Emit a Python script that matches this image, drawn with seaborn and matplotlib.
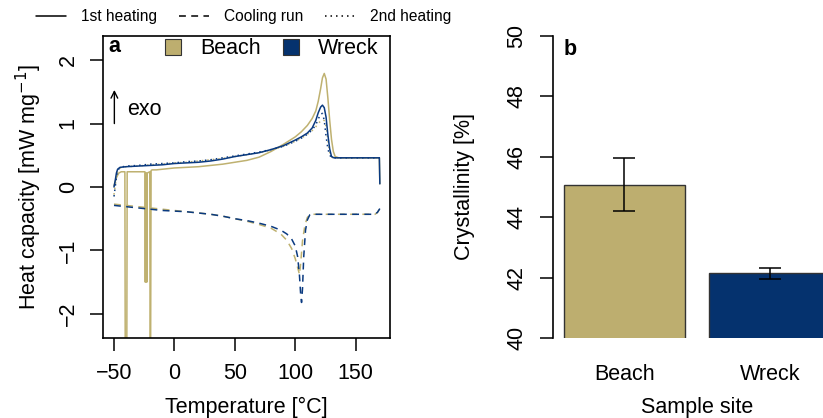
import numpy as np
import pandas as pd
import matplotlib
matplotlib.use("Agg")
import matplotlib.pyplot as plt
import seaborn as sns
from matplotlib.lines import Line2D
from matplotlib.patches import Patch

# ---------------- data ----------------
# Panel a: DSC curves (temperature in degC, heat capacity in mW mg-1)
beach_heat1_T = [-50, -48, -46, -44, -42, -41.0, -40.7, -39.4, -39.1, -36, -30, -24.4,
                 -24.1, -23.8, -23.2, -22.9, -22.5, -20.4, -20.1, -19.7, -19.3, -18.5,
                 -15, -10, 0, 10, 20, 30, 40, 50, 60, 70, 80, 90, 100, 105, 110, 114,
                 117, 119, 121, 122.5, 124, 125.5, 127, 128.5, 130, 131.5, 133, 136,
                 140, 150, 160, 169.6, 170]
beach_heat1_Y = [0.02, 0.15, 0.22, 0.24, 0.24, 0.24, -2.6, -2.6, 0.24, 0.24, 0.24, 0.24,
                 -1.5, 0.22, 0.22, -1.5, 0.22, 0.24, -2.6, -2.6, 0.26, 0.27,
                 0.27, 0.28, 0.30, 0.31, 0.32, 0.34, 0.36, 0.39, 0.42, 0.47, 0.56, 0.67,
                 0.79, 0.87, 0.97, 1.08, 1.20, 1.35, 1.55, 1.72, 1.79, 1.70, 1.40, 1.05,
                 0.75, 0.56, 0.48, 0.46, 0.46, 0.46, 0.46, 0.46, 0.05]

wreck_heat1_T = [-50, -49, -48, -47, -45, -40, -30, -20, -10, 0, 10, 20, 30, 40, 50, 60,
                 70, 80, 90, 100, 105, 110, 114, 117, 119, 121, 122.5, 124, 125.5, 127,
                 128.5, 130, 132, 140, 150, 160, 169.6, 170]
wreck_heat1_Y = [0.0, 0.10, 0.22, 0.28, 0.31, 0.32, 0.33, 0.34, 0.35, 0.37, 0.38, 0.39,
                 0.41, 0.44, 0.48, 0.51, 0.54, 0.59, 0.65, 0.74, 0.79, 0.85, 0.93, 1.05,
                 1.17, 1.26, 1.29, 1.25, 1.10, 0.82, 0.60, 0.48, 0.46, 0.46, 0.46, 0.46,
                 0.46, 0.05]

beach_cool_T = [-50, -40, -30, -20, -10, 0, 10, 20, 30, 40, 50, 60, 70, 80, 88, 93, 97,
                100, 102, 103.5, 104.5, 106, 108, 110, 112, 115, 130, 150, 166, 168, 170]
beach_cool_Y = [-0.27, -0.29, -0.31, -0.33, -0.35, -0.37, -0.39, -0.41, -0.43, -0.46,
                -0.50, -0.54, -0.59, -0.65, -0.74, -0.84, -0.97, -1.13, -1.27, -1.38,
                -1.20, -0.85, -0.60, -0.48, -0.44, -0.43, -0.43, -0.43, -0.43, -0.40, -0.34]

wreck_cool_T = [-50, -40, -30, -20, -10, 0, 10, 20, 30, 40, 50, 60, 70, 80, 88, 93, 97,
                100, 102, 103.5, 104.5, 105.2, 106, 107, 108.5, 110, 112, 115, 130, 150,
                166, 168, 170]
wreck_cool_Y = [-0.29, -0.31, -0.33, -0.35, -0.37, -0.38, -0.39, -0.41, -0.43, -0.46,
                -0.50, -0.53, -0.57, -0.62, -0.68, -0.74, -0.82, -0.93, -1.10, -1.40,
                -1.70, -1.82, -1.60, -1.10, -0.68, -0.52, -0.44, -0.43, -0.43, -0.43,
                -0.43, -0.40, -0.34]

beach_heat2_T = [-50, -49, -48, -47, -45, -40, -30, -20, -10, 0, 10, 20, 30, 40, 50, 60,
                 70, 80, 90, 100, 105, 110, 114, 117, 119, 121, 123, 124.5, 126, 127.5,
                 129, 131, 134, 140, 150, 160, 170]
beach_heat2_Y = [-0.12, 0.02, 0.16, 0.26, 0.30, 0.32, 0.33, 0.35, 0.36, 0.38, 0.39, 0.41,
                 0.43, 0.45, 0.48, 0.51, 0.54, 0.58, 0.64, 0.72, 0.77, 0.83, 0.89, 0.95,
                 1.0, 1.04, 1.06, 1.04, 0.90, 0.66, 0.50, 0.46, 0.46, 0.46, 0.46, 0.46,
                 0.46]

wreck_heat2_T = [-50, -49, -48, -47, -45, -40, -30, -20, -10, 0, 10, 20, 30, 40, 50, 60,
                 70, 80, 90, 100, 105, 110, 114, 117, 119, 121, 122.5, 124, 125.5, 127,
                 128.5, 130, 132, 140, 150, 160, 170]
wreck_heat2_Y = [-0.15, 0.0, 0.15, 0.26, 0.31, 0.33, 0.34, 0.36, 0.37, 0.38, 0.40, 0.41,
                 0.43, 0.46, 0.49, 0.52, 0.55, 0.59, 0.64, 0.72, 0.77, 0.83, 0.90, 0.98,
                 1.07, 1.15, 1.16, 1.05, 0.80, 0.60, 0.50, 0.47, 0.46, 0.46, 0.46, 0.46,
                 0.46]

# Panel b: crystallinity
sites = ["Beach", "Wreck"]
cryst_mean = [45.08, 42.16]
cryst_low = [44.19, 41.96]
cryst_high = [45.96, 42.33]

x_ticks_a = [-50, 0, 50, 100, 150]
y_ticks_a = [-2, -1, 0, 1, 2]
y_ticks_b = [40, 42, 44, 46, 48, 50]

# ---------------- style ----------------
TAN = "#BDAE6F"
BLUE = "#05326E"
TAN_L = "#BFB170"
BLUE_L = "#0A3A80"

sns.set_theme(style="ticks")
plt.rcParams["font.family"] = ["Liberation Sans", "DejaVu Sans"]
plt.rcParams["axes.linewidth"] = 1.2
plt.rcParams["xtick.major.width"] = 1.1
plt.rcParams["ytick.major.width"] = 1.1
plt.rcParams["xtick.color"] = "black"
plt.rcParams["ytick.color"] = "black"
plt.rcParams["axes.edgecolor"] = "black"
plt.rcParams["text.color"] = "black"
plt.rcParams["axes.labelcolor"] = "black"

W, H = 823, 418
fig = plt.figure(figsize=(W / 100, H / 100), dpi=100)

def fbox(l, t, r, b):
    return [l / W, 1 - b / H, (r - l) / W, (b - t) / H]

ax = fig.add_axes(fbox(103, 36, 390, 338))
axb = fig.add_axes(fbox(553, 36, 823, 338))

FS = 15.5
LW = 1.1
DASH = (0, (4.5, 3.5))
DOT = (0, (1, 2.6))

# ---------------- panel a ----------------
curves = [
    (beach_heat1_T, beach_heat1_Y, TAN_L, "-"),
    (beach_cool_T, beach_cool_Y, TAN_L, DASH),
    (beach_heat2_T, beach_heat2_Y, TAN_L, DOT),
    (wreck_heat1_T, wreck_heat1_Y, BLUE_L, "-"),
    (wreck_cool_T, wreck_cool_Y, BLUE_L, DASH),
    (wreck_heat2_T, wreck_heat2_Y, BLUE_L, DOT),
]
for T, Y, c, ls in curves:
    sns.lineplot(x=T, y=Y, ax=ax, color=c, linewidth=LW, linestyle=ls,
                 estimator=None, sort=False, legend=False)

ax.set_xlim(-59.1, 178.4)
ax.set_ylim(-2.38, 2.38)
ax.set_xticks(x_ticks_a)
ax.set_yticks(y_ticks_a)
ax.tick_params(axis="both", length=9.5, labelsize=FS, direction="out")
ax.tick_params(axis="x", pad=8.5)
ax.tick_params(axis="y", pad=8)
for lab in ax.get_yticklabels():
    lab.set_rotation(90)
    lab.set_va("center")
ax.set_xlabel("Temperature [°C]", fontsize=FS)
ax.xaxis.set_label_coords(0.5, -0.195)
ax.set_ylabel("Heat capacity [mW mg$^{-1}$]", fontsize=FS)
ax.yaxis.set_label_coords(-0.205, 0.5)
for s in ax.spines.values():
    s.set_visible(True)
    s.set_linewidth(1.2)

ax.text(0.018, 0.946, "a", transform=ax.transAxes, fontsize=FS, fontweight="bold",
        va="baseline", ha="left")
ax.annotate("", xy=(-49.7, 1.53), xytext=(-49.7, 1.0),
            arrowprops=dict(arrowstyle="->", lw=1.0, color="black",
                            shrinkA=0, shrinkB=0))
ax.text(-39.2, 1.14, "exo", fontsize=FS, va="baseline", ha="left")

leg_a = ax.legend(handles=[Patch(facecolor=TAN, edgecolor="#333333", linewidth=0.8),
                           Patch(facecolor=BLUE, edgecolor="#333333", linewidth=0.8)],
                  labels=sites, ncol=2, loc="center left",
                  bbox_to_anchor=(0.216, 0.958), frameon=False, fontsize=FS,
                  handlelength=0.75, handleheight=0.75, handletextpad=0.9,
                  columnspacing=1.0, borderpad=0, borderaxespad=0)

# figure-level line-type legend
fig.legend(handles=[Line2D([], [], color="black", lw=LW, linestyle="-"),
                    Line2D([], [], color="black", lw=LW, linestyle=DASH),
                    Line2D([], [], color="black", lw=LW, linestyle=DOT)],
           labels=["1st heating", "Cooling run", "2nd heating"], ncol=3,
           loc="center left", bbox_to_anchor=(36 / W, 1 - 17 / H), frameon=False,
           fontsize=11.2, handlelength=1.95, handletextpad=0.95, columnspacing=1.4,
           borderpad=0, borderaxespad=0)

# ---------------- panel b ----------------
dfb = pd.DataFrame({"site": sites, "cryst": cryst_mean})
sns.barplot(data=dfb, x="site", y="cryst", hue="site", palette=[TAN, BLUE],
            saturation=1, ax=axb, width=0.834, edgecolor="#333333", linewidth=1.0,
            legend=False, errorbar=None)
yerr = [np.array(cryst_mean) - np.array(cryst_low),
        np.array(cryst_high) - np.array(cryst_mean)]
axb.errorbar(x=[0, 1], y=cryst_mean, yerr=yerr, fmt="none", ecolor="black",
             elinewidth=1.1, capsize=7.9, capthick=1.1)
axb.set_ylim(40, 50)
axb.set_xlim(-0.49, 1.366)
axb.set_yticks(y_ticks_b)
axb.tick_params(axis="y", length=9.5, labelsize=FS, pad=9)
axb.tick_params(axis="x", length=0, labelsize=FS, pad=18.5)
for lab in axb.get_yticklabels():
    lab.set_rotation(90)
    lab.set_va("center")
sns.despine(ax=axb, top=True, right=True, bottom=True)
axb.spines["left"].set_linewidth(1.2)
axb.set_xlabel("Sample site", fontsize=FS)
axb.xaxis.set_label_coords(0.533, -0.195)
axb.set_ylabel("Crystallinity [%]", fontsize=FS)
axb.yaxis.set_label_coords(-0.29, 0.5)
axb.text(0.041, 0.937, "b", transform=axb.transAxes, fontsize=FS, fontweight="bold",
         va="baseline", ha="left")

fig.savefig("out.png", dpi=100)
